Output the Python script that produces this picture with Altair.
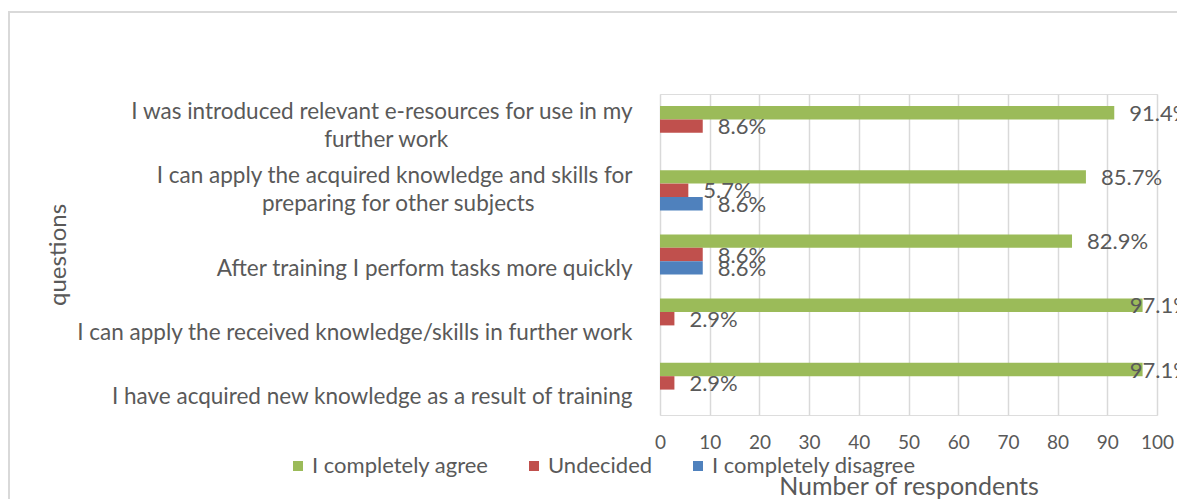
import altair as alt
import pandas as pd

# ---------------- data ----------------
questions = [
    "I was introduced relevant e-resources for use in my|further work",
    "I can apply the acquired knowledge and skills for|preparing for other subjects",
    "After training I perform tasks more quickly",
    "I can apply the received knowledge/skills in further work",
    "I have acquired new knowledge as a result of training",
]
series = ["I completely agree", "Undecided", "I completely disagree"]
agree = [91.4, 85.7, 82.9, 97.1, 97.1]
undecided = [8.6, 5.7, 8.6, 2.9, 2.9]
disagree = [0.0, 8.6, 8.6, 0.0, 0.0]
x_ticks = [0, 10, 20, 30, 40, 50, 60, 70, 80, 90, 100]
colors = ["#9BBB59", "#C0504D", "#4F81BD"]

rows = []
for q, a, u, d in zip(questions, agree, undecided, disagree):
    for s, v in zip(series, (a, u, d)):
        rows.append({"question": q, "series": s, "value": v})
df = pd.DataFrame(rows)

FONT = "Lato"
TXT = "#595959"
GRID = "#d9d9d9"
NB = "\u00a0"
WJ = "\u2060"

# two-line labels: second line centred under the first (padded with no-break spaces,
# closed by an invisible word joiner so the padding is not dropped at the line end)
label_expr = (
    "indexof(datum.label, '|') < 0 ? ['', datum.label] : "
    "[split(datum.label, '|')[0], "
    "pad(split(datum.label, '|')[1], length(split(datum.label, '|')[1]) + "
    "round(0.83 * (length(split(datum.label, '|')[0]) - length(split(datum.label, '|')[1]))), '"
    + NB + "') + '" + WJ + "']"
)

y_enc = alt.Y(
    "question:N",
    sort=questions,
    scale=alt.Scale(paddingInner=0.374, paddingOuter=0.187),
    axis=alt.Axis(
        title="questions",
        titleAngle=270,
        titleX=-595,
        titleY=160.5,
        titleAlign="center",
        titleBaseline="alphabetic",
        titleFont=FONT,
        titleFontSize=24,
        titleFontWeight="normal",
        titleColor=TXT,
        labelExpr=label_expr,
        labelLimit=700,
        labelPadding=28,
        labelOffset=-14,
        labelFont=FONT,
        labelFontSize=22.5,
        labelLineHeight=28,
        labelColor=TXT,
        domain=False,
        ticks=False,
        grid=False,
    ),
)
yoff_enc = alt.YOffset("series:N", sort=series, scale=alt.Scale(domain=series))

x_axis = alt.Axis(
    values=x_ticks,
    grid=True,
    gridColor=GRID,
    gridWidth=1.5,
    domain=False,
    ticks=False,
    labelFlush=False,
    labelFont=FONT,
    labelFontSize=19,
    labelPadding=18,
    labelColor=TXT,
    title="Number of respondents",
    titleFont=FONT,
    titleFontSize=25,
    titleFontWeight="normal",
    titleColor=TXT,
    titleY=79,
    titleBaseline="alphabetic",
)

bars = alt.Chart(df).mark_bar().encode(
    x=alt.X("value:Q", scale=alt.Scale(domain=[0, 100], nice=False), axis=x_axis),
    y=y_enc,
    yOffset=yoff_enc,
    color=alt.Color(
        "series:N",
        sort=series,
        scale=alt.Scale(domain=series, range=colors),
        legend=alt.Legend(
            orient="none",
            direction="horizontal",
            legendX=-373,
            legendY=361,
            title=None,
            symbolType="square",
            symbolSize=100,
            symbolStrokeWidth=0,
            labelFont=FONT,
            labelFontSize=22,
            labelColor=TXT,
            labelLimit=400,
            labelOffset=3,
            columnPadding=34,
            padding=0,
        ),
    ),
)

texts = (
    alt.Chart(df)
    .transform_filter("datum.value > 0")
    .transform_calculate(lx="min(datum.value, 91.5)", txt="format(datum.value, '.1f') + '%'")
    .mark_text(align="left", baseline="middle", dx=15, dy=1, font=FONT, fontSize=22, color=TXT)
    .encode(
        x=alt.X("lx:Q"),
        y=alt.Y("question:N", sort=questions),
        yOffset=alt.YOffset("series:N", sort=series),
        text="txt:N",
    )
)

frame_top = alt.Chart(alt.Data(values=[{}])).mark_rule(color=GRID, strokeWidth=2).encode(
    x=alt.value(-652), x2=alt.value(530), y=alt.value(-82)
)
frame_left = alt.Chart(alt.Data(values=[{}])).mark_rule(color=GRID, strokeWidth=2).encode(
    x=alt.value(-651), y=alt.value(-82), y2=alt.value(410)
)

chart = (
    alt.layer(frame_top, frame_left, bars, texts)
    .properties(
        width=497,
        height=321,
        autosize=alt.AutoSizeParams(type="none"),
        padding={"left": 652, "top": 86, "right": 20, "bottom": 84},
    )
    .configure_view(stroke=None)
    .configure(background="white")
)

chart.save("out.html", embed_options={"renderer": "svg", "actions": False})
